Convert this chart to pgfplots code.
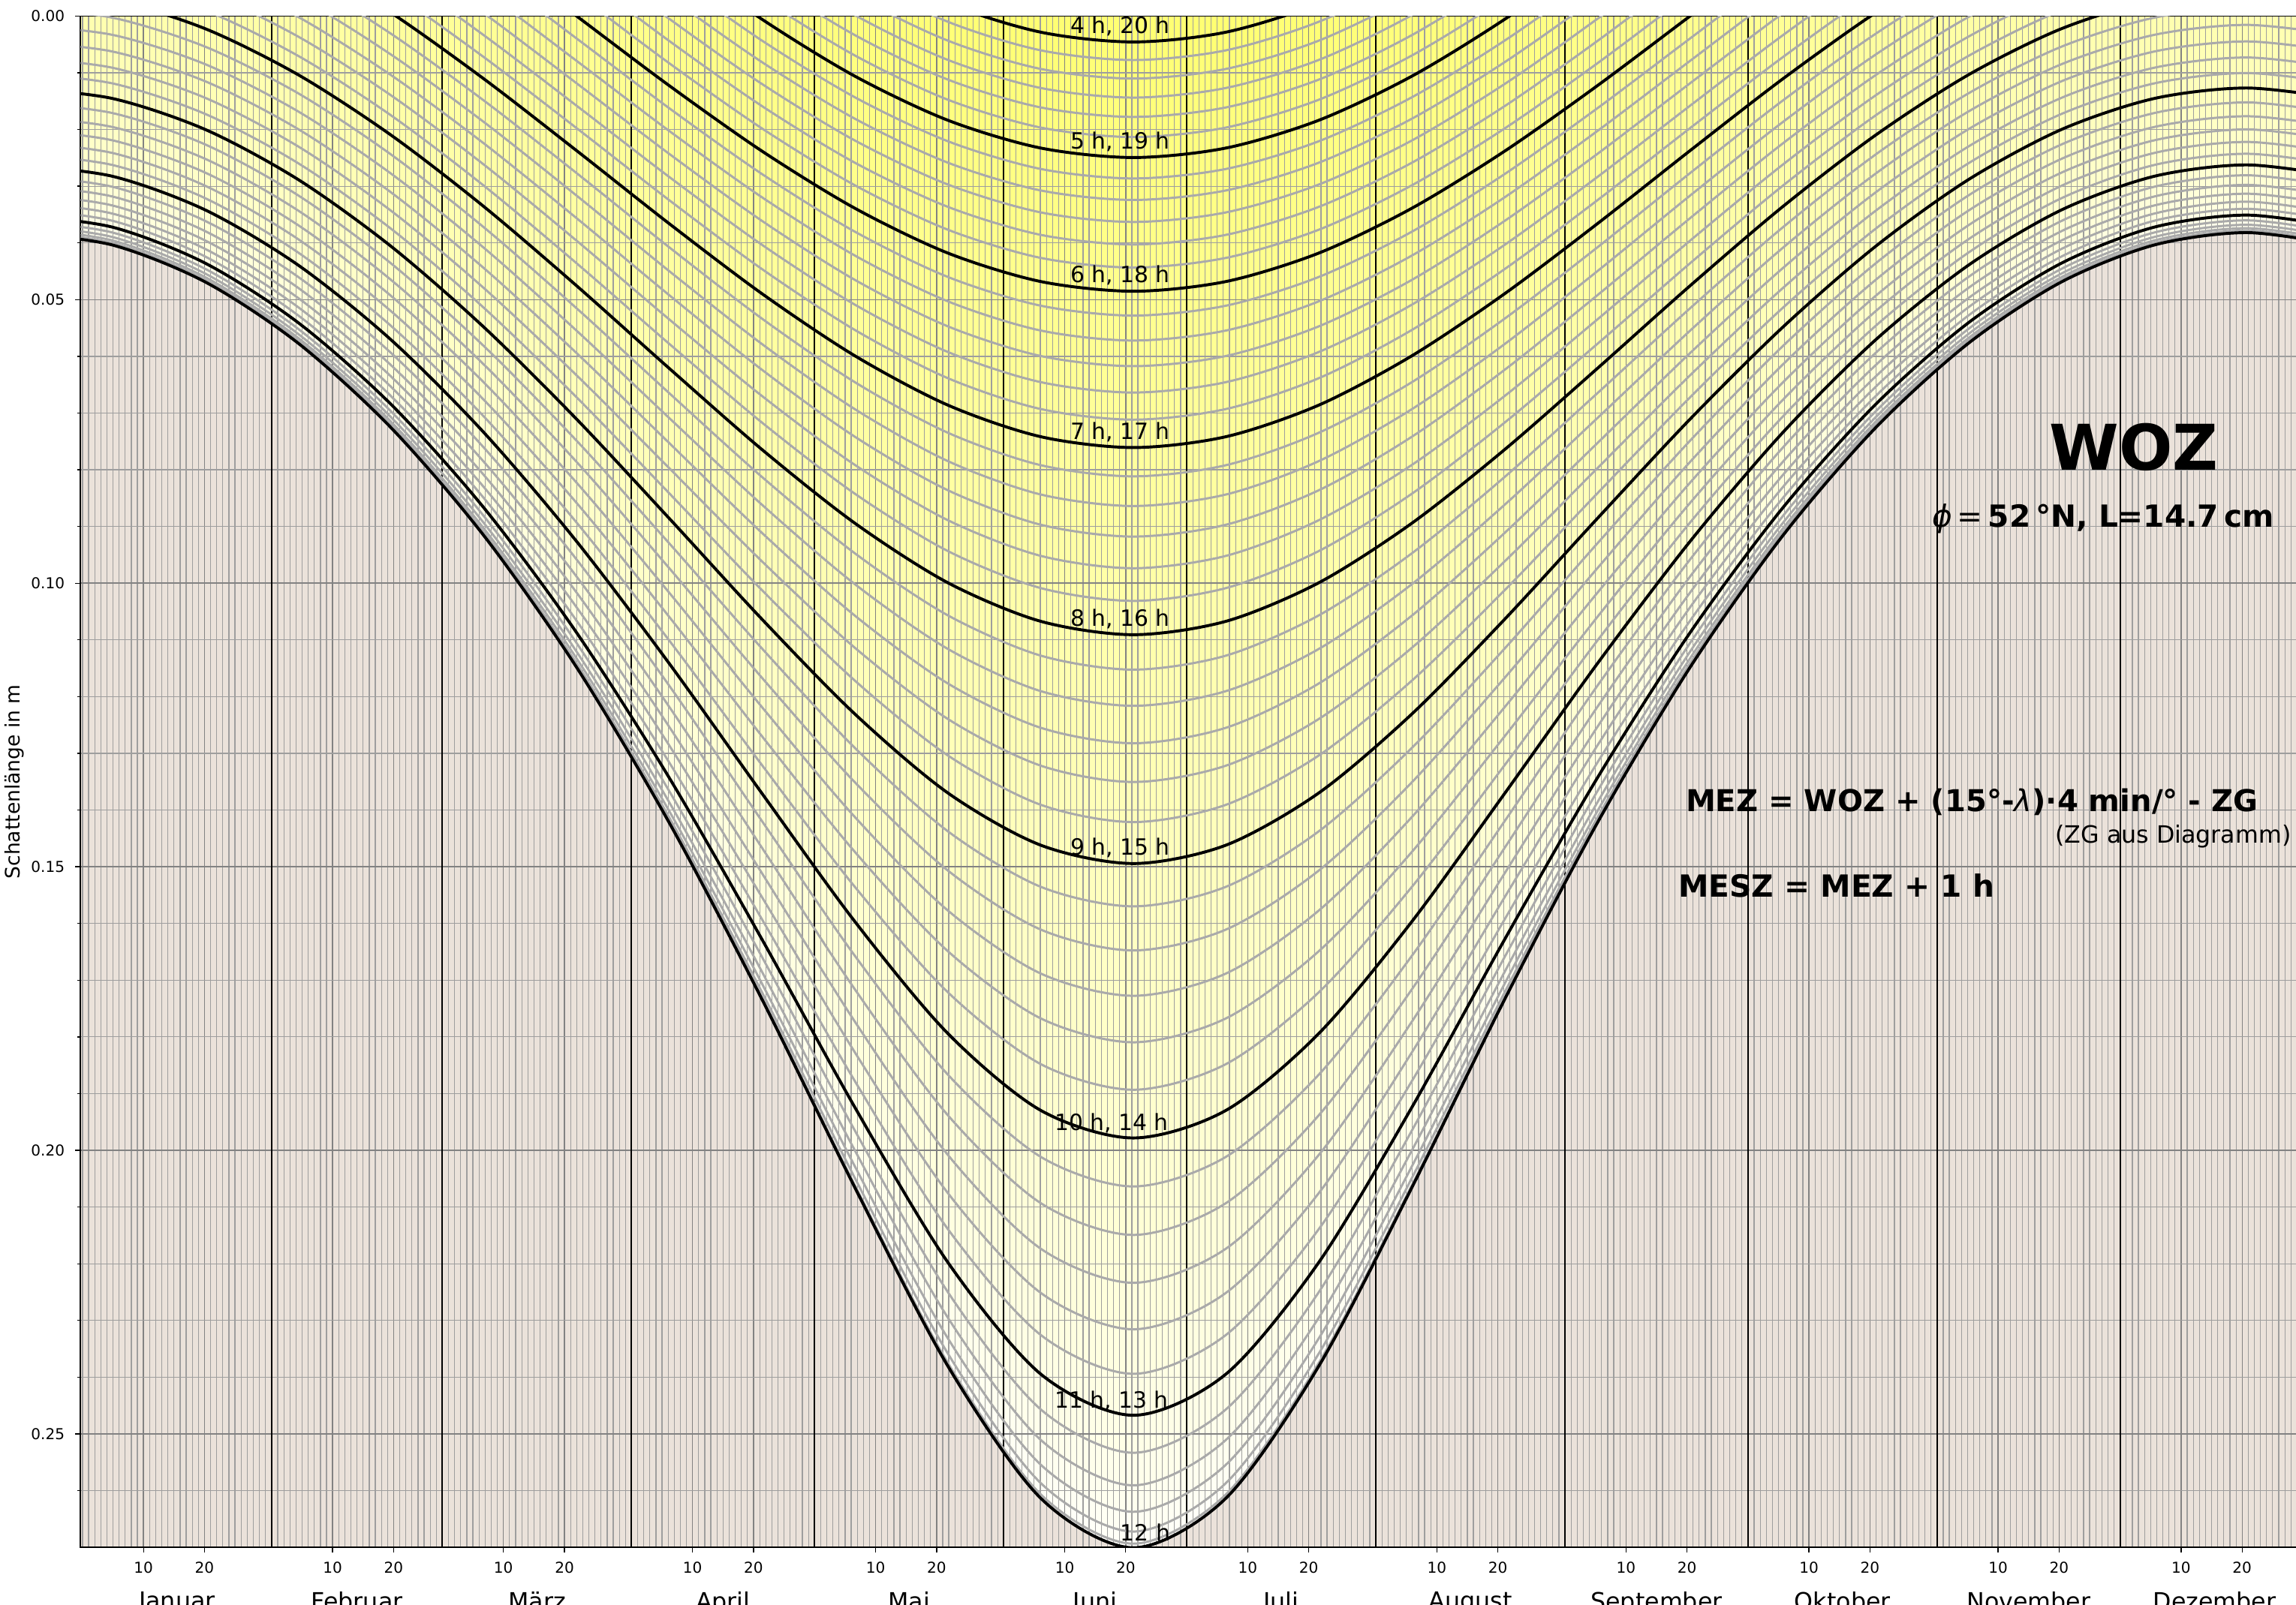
\documentclass[border=0pt]{standalone}
\usepackage{fontspec}
\setmainfont{DejaVu Sans}
\usepackage{pgfplots}
\usepackage{pgfplotstable}
\pgfplotsset{compat=1.18}
\newcommand\fs[1]{\fontsize{#1}{#1}\selectfont}
\definecolor{beige}{RGB}{235,226,218}
\definecolor{gcurve}{RGB}{170,170,170}
\definecolor{gridmin}{RGB}{158,158,158}
\definecolor{gridmaj}{RGB}{130,130,130}
\definecolor{Y0}{RGB}{255,255,251}\definecolor{Y1}{RGB}{255,255,247}\definecolor{Y2}{RGB}{255,255,243}
\definecolor{Y3}{RGB}{255,255,239}\definecolor{Y4}{RGB}{255,255,235}\definecolor{Y5}{RGB}{255,255,231}
\definecolor{Y6}{RGB}{255,255,228}\definecolor{Y7}{RGB}{255,255,224}\definecolor{Y8}{RGB}{255,255,220}
\definecolor{Y9}{RGB}{255,255,217}\definecolor{Y10}{RGB}{255,255,213}\definecolor{Y11}{RGB}{255,255,210}
\definecolor{Y12}{RGB}{255,255,206}\definecolor{Y13}{RGB}{255,255,203}\definecolor{Y14}{RGB}{255,255,200}
\definecolor{Y15}{RGB}{255,255,197}\definecolor{Y16}{RGB}{255,255,194}\definecolor{Y17}{RGB}{255,255,190}
\definecolor{Y18}{RGB}{255,255,187}\definecolor{Y19}{RGB}{255,255,184}\definecolor{Y20}{RGB}{255,255,181}
\definecolor{Y21}{RGB}{255,255,178}\definecolor{Y22}{RGB}{255,255,176}\definecolor{Y23}{RGB}{255,255,173}
\definecolor{Y24}{RGB}{255,255,170}\definecolor{Y25}{RGB}{255,255,167}\definecolor{Y26}{RGB}{255,255,165}
\definecolor{Y27}{RGB}{255,255,162}\definecolor{Y28}{RGB}{255,255,159}\definecolor{Y29}{RGB}{255,255,157}
\definecolor{Y30}{RGB}{255,255,154}\definecolor{Y31}{RGB}{255,255,152}\definecolor{Y32}{RGB}{255,255,149}
\definecolor{Y33}{RGB}{255,255,147}\definecolor{Y34}{RGB}{255,255,145}\definecolor{Y35}{RGB}{255,255,142}
\definecolor{Y36}{RGB}{255,255,140}\definecolor{Y37}{RGB}{255,255,138}\definecolor{Y38}{RGB}{255,255,135}
\definecolor{Y39}{RGB}{255,255,133}\definecolor{Y40}{RGB}{255,255,131}\definecolor{Y41}{RGB}{255,255,129}
\definecolor{Y42}{RGB}{255,255,127}\definecolor{Y43}{RGB}{255,255,125}\definecolor{Y44}{RGB}{255,255,123}
\definecolor{Y45}{RGB}{255,255,121}\definecolor{Y46}{RGB}{255,255,119}\definecolor{Y47}{RGB}{255,255,117}
\definecolor{Y48}{RGB}{255,255,115}

\pgfplotstableread{
x c0 c1 c2 c3 c4 c5 c6 c7 c8 c9 c10 c11 c12 c13 c14 c15 c16 c17 c18 c19 c20 c21 c22 c23 c24 c25 c26 c27 c28 c29 c30 c31 c32 c33 c34 c35 c36 c37 c38 c39 c40 c41 c42 c43 c44 c45 c46 c47 c48
-10.25 0.03818 0.03809 0.03783 0.03740 0.03680 0.03602 0.03509 0.03399 0.03273 0.03132 0.02977 0.02807 0.02624 0.02428 0.02219 0.01998 0.01766 0.01522 0.01268 0.01004 0.00730 0.00447 0.00155 -0.00146 -0.00456 -0.00775 -0.01102 -0.01437 -0.01778 -0.02133 -0.02494 -0.02863 -0.03242 -0.03630 -0.04027 -0.04434 -0.04852 -0.05281 -0.05721 -0.06173 -0.06638 -0.07116 -0.07608 -0.08116 -0.08639 -0.09178 -0.09736 -0.10312 -0.10908
4.96 0.04038 0.04029 0.04003 0.03958 0.03897 0.03818 0.03723 0.03611 0.03484 0.03341 0.03183 0.03011 0.02826 0.02627 0.02415 0.02192 0.01957 0.01711 0.01454 0.01188 0.00912 0.00626 0.00332 0.00029 -0.00283 -0.00603 -0.00931 -0.01267 -0.01610 -0.01965 -0.02326 -0.02695 -0.03074 -0.03461 -0.03857 -0.04263 -0.04680 -0.05106 -0.05544 -0.05993 -0.06454 -0.06928 -0.07416 -0.07918 -0.08435 -0.08968 -0.09517 -0.10085 -0.10671
20.17 0.04691 0.04682 0.04654 0.04607 0.04543 0.04460 0.04360 0.04243 0.04109 0.03960 0.03795 0.03615 0.03421 0.03214 0.02995 0.02763 0.02520 0.02266 0.02002 0.01728 0.01444 0.01152 0.00851 0.00542 0.00225 -0.00099 -0.00432 -0.00772 -0.01119 -0.01474 -0.01836 -0.02206 -0.02584 -0.02969 -0.03363 -0.03766 -0.04178 -0.04599 -0.05029 -0.05470 -0.05922 -0.06384 -0.06859 -0.07346 -0.07846 -0.08360 -0.08888 -0.09432 -0.09991
35.38 0.05770 0.05760 0.05729 0.05678 0.05607 0.05517 0.05408 0.05280 0.05135 0.04973 0.04794 0.04601 0.04393 0.04171 0.03936 0.03689 0.03431 0.03163 0.02884 0.02596 0.02300 0.01995 0.01683 0.01363 0.01036 0.00703 0.00363 0.00016 -0.00337 -0.00696 -0.01061 -0.01433 -0.01811 -0.02195 -0.02587 -0.02985 -0.03390 -0.03803 -0.04224 -0.04653 -0.05090 -0.05536 -0.05992 -0.06457 -0.06933 -0.07419 -0.07916 -0.08424 -0.08944
50.58 0.07259 0.07247 0.07212 0.07154 0.07074 0.06971 0.06847 0.06702 0.06538 0.06356 0.06156 0.05940 0.05709 0.05463 0.05204 0.04934 0.04652 0.04361 0.04060 0.03750 0.03433 0.03109 0.02778 0.02441 0.02099 0.01751 0.01398 0.01041 0.00679 0.00312 -0.00059 -0.00435 -0.00815 -0.01200 -0.01590 -0.01984 -0.02384 -0.02788 -0.03198 -0.03614 -0.04036 -0.04464 -0.04898 -0.05338 -0.05786 -0.06240 -0.06702 -0.07171 -0.07647
65.79 0.09161 0.09147 0.09105 0.09036 0.08939 0.08817 0.08670 0.08499 0.08306 0.08093 0.07860 0.07609 0.07343 0.07061 0.06767 0.06461 0.06144 0.05819 0.05485 0.05144 0.04796 0.04444 0.04086 0.03725 0.03359 0.02991 0.02619 0.02245 0.01868 0.01489 0.01107 0.00724 0.00338 -0.00050 -0.00441 -0.00834 -0.01229 -0.01627 -0.02028 -0.02432 -0.02839 -0.03249 -0.03663 -0.04080 -0.04500 -0.04924 -0.05351 -0.05782 -0.06215
81.00 0.11485 0.11467 0.11415 0.11328 0.11208 0.11056 0.10873 0.10663 0.10426 0.10166 0.09884 0.09583 0.09264 0.08931 0.08585 0.08228 0.07862 0.07488 0.07108 0.06723 0.06335 0.05943 0.05548 0.05153 0.04756 0.04359 0.03961 0.03564 0.03166 0.02769 0.02373 0.01976 0.01581 0.01185 0.00790 0.00395 0.00000 -0.00395 -0.00790 -0.01185 -0.01581 -0.01976 -0.02373 -0.02769 -0.03166 -0.03564 -0.03961 -0.04359 -0.04756
96.21 0.14230 0.14207 0.14138 0.14025 0.13869 0.13672 0.13437 0.13167 0.12866 0.12538 0.12185 0.11812 0.11421 0.11015 0.10598 0.10172 0.09739 0.09301 0.08861 0.08418 0.07975 0.07532 0.07091 0.06652 0.06215 0.05782 0.05351 0.04924 0.04500 0.04080 0.03663 0.03249 0.02839 0.02432 0.02028 0.01627 0.01229 0.00834 0.00441 0.00050 -0.00338 -0.00724 -0.01107 -0.01489 -0.01868 -0.02245 -0.02619 -0.02991 -0.03359
111.42 0.17346 0.17315 0.17222 0.17069 0.16860 0.16598 0.16288 0.15934 0.15543 0.15121 0.14672 0.14201 0.13713 0.13213 0.12704 0.12190 0.11673 0.11156 0.10640 0.10127 0.09619 0.09117 0.08620 0.08130 0.07647 0.07171 0.06702 0.06240 0.05786 0.05338 0.04898 0.04464 0.04036 0.03614 0.03198 0.02788 0.02384 0.01984 0.01590 0.01200 0.00815 0.00435 0.00059 -0.00312 -0.00679 -0.01041 -0.01398 -0.01751 -0.02099
126.63 0.20662 0.20620 0.20494 0.20288 0.20007 0.19657 0.19247 0.18784 0.18277 0.17735 0.17165 0.16574 0.15970 0.15358 0.14741 0.14126 0.13513 0.12907 0.12309 0.11720 0.11141 0.10574 0.10019 0.09475 0.08944 0.08424 0.07916 0.07419 0.06933 0.06457 0.05992 0.05536 0.05090 0.04653 0.04224 0.03803 0.03390 0.02985 0.02587 0.02195 0.01811 0.01433 0.01061 0.00696 0.00337 -0.00016 -0.00363 -0.00703 -0.01036
141.83 0.23801 0.23745 0.23580 0.23312 0.22948 0.22497 0.21973 0.21386 0.20751 0.20078 0.19379 0.18663 0.17938 0.17211 0.16487 0.15770 0.15065 0.14373 0.13697 0.13036 0.12393 0.11767 0.11158 0.10566 0.09991 0.09432 0.08888 0.08360 0.07846 0.07346 0.06859 0.06384 0.05922 0.05470 0.05029 0.04599 0.04178 0.03766 0.03363 0.02969 0.02584 0.02206 0.01836 0.01474 0.01119 0.00772 0.00432 0.00099 -0.00225
157.04 0.26131 0.26064 0.25864 0.25540 0.25103 0.24565 0.23943 0.23253 0.22511 0.21732 0.20929 0.20113 0.19294 0.18478 0.17672 0.16881 0.16106 0.15352 0.14618 0.13906 0.13216 0.12548 0.11902 0.11276 0.10671 0.10085 0.09517 0.08968 0.08435 0.07918 0.07416 0.06928 0.06454 0.05993 0.05544 0.05106 0.04680 0.04263 0.03857 0.03461 0.03074 0.02695 0.02326 0.01965 0.01610 0.01267 0.00931 0.00603 0.00283
172.25 0.27008 0.26936 0.26722 0.26374 0.25907 0.25333 0.24672 0.23941 0.23156 0.22336 0.21492 0.20637 0.19782 0.18932 0.18095 0.17275 0.16475 0.15698 0.14943 0.14212 0.13505 0.12822 0.12162 0.11524 0.10908 0.10312 0.09736 0.09178 0.08639 0.08116 0.07608 0.07116 0.06638 0.06173 0.05721 0.05281 0.04852 0.04434 0.04027 0.03630 0.03242 0.02863 0.02494 0.02133 0.01778 0.01437 0.01102 0.00775 0.00456
187.46 0.26131 0.26064 0.25864 0.25540 0.25103 0.24565 0.23943 0.23253 0.22511 0.21732 0.20929 0.20113 0.19294 0.18478 0.17672 0.16881 0.16106 0.15352 0.14618 0.13906 0.13216 0.12548 0.11902 0.11276 0.10671 0.10085 0.09517 0.08968 0.08435 0.07918 0.07416 0.06928 0.06454 0.05993 0.05544 0.05106 0.04680 0.04263 0.03857 0.03461 0.03074 0.02695 0.02326 0.01965 0.01610 0.01267 0.00931 0.00603 0.00283
202.67 0.23801 0.23745 0.23580 0.23312 0.22948 0.22497 0.21973 0.21386 0.20751 0.20078 0.19379 0.18663 0.17938 0.17211 0.16487 0.15770 0.15065 0.14373 0.13697 0.13036 0.12393 0.11767 0.11158 0.10566 0.09991 0.09432 0.08888 0.08360 0.07846 0.07346 0.06859 0.06384 0.05922 0.05470 0.05029 0.04599 0.04178 0.03766 0.03363 0.02969 0.02584 0.02206 0.01836 0.01474 0.01119 0.00772 0.00432 0.00099 -0.00225
217.88 0.20662 0.20620 0.20494 0.20288 0.20007 0.19657 0.19247 0.18784 0.18277 0.17735 0.17165 0.16574 0.15970 0.15358 0.14741 0.14126 0.13513 0.12907 0.12309 0.11720 0.11141 0.10574 0.10019 0.09475 0.08944 0.08424 0.07916 0.07419 0.06933 0.06457 0.05992 0.05536 0.05090 0.04653 0.04224 0.03803 0.03390 0.02985 0.02587 0.02195 0.01811 0.01433 0.01061 0.00696 0.00337 -0.00016 -0.00363 -0.00703 -0.01036
233.08 0.17346 0.17315 0.17222 0.17069 0.16860 0.16598 0.16288 0.15934 0.15543 0.15121 0.14672 0.14201 0.13713 0.13213 0.12704 0.12190 0.11673 0.11156 0.10640 0.10127 0.09619 0.09117 0.08620 0.08130 0.07647 0.07171 0.06702 0.06240 0.05786 0.05338 0.04898 0.04464 0.04036 0.03614 0.03198 0.02788 0.02384 0.01984 0.01590 0.01200 0.00815 0.00435 0.00059 -0.00312 -0.00679 -0.01041 -0.01398 -0.01751 -0.02099
248.29 0.14230 0.14207 0.14138 0.14025 0.13869 0.13672 0.13437 0.13167 0.12866 0.12538 0.12185 0.11812 0.11421 0.11015 0.10598 0.10172 0.09739 0.09301 0.08861 0.08418 0.07975 0.07532 0.07091 0.06652 0.06215 0.05782 0.05351 0.04924 0.04500 0.04080 0.03663 0.03249 0.02839 0.02432 0.02028 0.01627 0.01229 0.00834 0.00441 0.00050 -0.00338 -0.00724 -0.01107 -0.01489 -0.01868 -0.02245 -0.02619 -0.02991 -0.03359
263.50 0.11485 0.11467 0.11415 0.11328 0.11208 0.11056 0.10873 0.10663 0.10426 0.10166 0.09884 0.09583 0.09264 0.08931 0.08585 0.08228 0.07862 0.07488 0.07108 0.06723 0.06335 0.05943 0.05548 0.05153 0.04756 0.04359 0.03961 0.03564 0.03166 0.02769 0.02373 0.01976 0.01581 0.01185 0.00790 0.00395 0.00000 -0.00395 -0.00790 -0.01185 -0.01581 -0.01976 -0.02373 -0.02769 -0.03166 -0.03564 -0.03961 -0.04359 -0.04756
278.71 0.09161 0.09147 0.09105 0.09036 0.08939 0.08817 0.08670 0.08499 0.08306 0.08093 0.07860 0.07609 0.07343 0.07061 0.06767 0.06461 0.06144 0.05819 0.05485 0.05144 0.04796 0.04444 0.04086 0.03725 0.03359 0.02991 0.02619 0.02245 0.01868 0.01489 0.01107 0.00724 0.00338 -0.00050 -0.00441 -0.00834 -0.01229 -0.01627 -0.02028 -0.02432 -0.02839 -0.03249 -0.03663 -0.04080 -0.04500 -0.04924 -0.05351 -0.05782 -0.06215
293.92 0.07259 0.07247 0.07212 0.07154 0.07074 0.06971 0.06847 0.06702 0.06538 0.06356 0.06156 0.05940 0.05709 0.05463 0.05204 0.04934 0.04652 0.04361 0.04060 0.03750 0.03433 0.03109 0.02778 0.02441 0.02099 0.01751 0.01398 0.01041 0.00679 0.00312 -0.00059 -0.00435 -0.00815 -0.01200 -0.01590 -0.01984 -0.02384 -0.02788 -0.03198 -0.03614 -0.04036 -0.04464 -0.04898 -0.05338 -0.05786 -0.06240 -0.06702 -0.07171 -0.07647
309.13 0.05770 0.05760 0.05729 0.05678 0.05607 0.05517 0.05408 0.05280 0.05135 0.04973 0.04794 0.04601 0.04393 0.04171 0.03936 0.03689 0.03431 0.03163 0.02884 0.02596 0.02300 0.01995 0.01683 0.01363 0.01036 0.00703 0.00363 0.00016 -0.00337 -0.00696 -0.01061 -0.01433 -0.01811 -0.02195 -0.02587 -0.02985 -0.03390 -0.03803 -0.04224 -0.04653 -0.05090 -0.05536 -0.05992 -0.06457 -0.06933 -0.07419 -0.07916 -0.08424 -0.08944
324.33 0.04691 0.04682 0.04654 0.04607 0.04543 0.04460 0.04360 0.04243 0.04109 0.03960 0.03795 0.03615 0.03421 0.03214 0.02995 0.02763 0.02520 0.02266 0.02002 0.01728 0.01444 0.01152 0.00851 0.00542 0.00225 -0.00099 -0.00432 -0.00772 -0.01119 -0.01474 -0.01836 -0.02206 -0.02584 -0.02969 -0.03363 -0.03766 -0.04178 -0.04599 -0.05029 -0.05470 -0.05922 -0.06384 -0.06859 -0.07346 -0.07846 -0.08360 -0.08888 -0.09432 -0.09991
339.54 0.04038 0.04029 0.04003 0.03958 0.03897 0.03818 0.03723 0.03611 0.03484 0.03341 0.03183 0.03011 0.02826 0.02627 0.02415 0.02192 0.01957 0.01711 0.01454 0.01188 0.00912 0.00626 0.00332 0.00029 -0.00283 -0.00603 -0.00931 -0.01267 -0.01610 -0.01965 -0.02326 -0.02695 -0.03074 -0.03461 -0.03857 -0.04263 -0.04680 -0.05106 -0.05544 -0.05993 -0.06454 -0.06928 -0.07416 -0.07918 -0.08435 -0.08968 -0.09517 -0.10085 -0.10671
354.75 0.03818 0.03809 0.03783 0.03740 0.03680 0.03602 0.03509 0.03399 0.03273 0.03132 0.02977 0.02807 0.02624 0.02428 0.02219 0.01998 0.01766 0.01522 0.01268 0.01004 0.00730 0.00447 0.00155 -0.00146 -0.00456 -0.00775 -0.01102 -0.01437 -0.01778 -0.02133 -0.02494 -0.02863 -0.03242 -0.03630 -0.04027 -0.04434 -0.04852 -0.05281 -0.05721 -0.06173 -0.06638 -0.07116 -0.07608 -0.08116 -0.08639 -0.09178 -0.09736 -0.10312 -0.10908
369.96 0.04038 0.04029 0.04003 0.03958 0.03897 0.03818 0.03723 0.03611 0.03484 0.03341 0.03183 0.03011 0.02826 0.02627 0.02415 0.02192 0.01957 0.01711 0.01454 0.01188 0.00912 0.00626 0.00332 0.00029 -0.00283 -0.00603 -0.00931 -0.01267 -0.01610 -0.01965 -0.02326 -0.02695 -0.03074 -0.03461 -0.03857 -0.04263 -0.04680 -0.05106 -0.05544 -0.05993 -0.06454 -0.06928 -0.07416 -0.07918 -0.08435 -0.08968 -0.09517 -0.10085 -0.10671
}\curves

\begin{document}
\begin{tikzpicture}
\begin{axis}[
  at={(0pt,0pt)}, anchor=south west,
  scale only axis, width=1091.52pt, height=753.12pt,
  xmin=-0.32, xmax=363.57, ymin=0, ymax=0.27, y dir=reverse,
  set layers, clip mode=individual,
  axis background/.style={fill=beige},
  axis line style={line width=0.6pt},
  tick pos=left,
  tick align=outside, major tick length=2.6pt, minor tick length=0pt,
  tick style={black, line width=0.5pt},
  xtick={10,20,41,51,69,79,100,110,130,140,161,171,191,201,222,232,253,263,283,293,314,324,344,354},
  xticklabels={10,20,10,20,10,20,10,20,10,20,10,20,10,20,10,20,10,20,10,20,10,20,10,20},
  minor xtick={0,1,...,363},
  ytick={0,0.05,0.1,0.15,0.2,0.25},
  minor ytick={0.01,0.02,0.03,0.04,0.06,0.07,0.08,0.09,0.11,0.12,0.13,0.14,0.16,0.17,0.18,0.19,0.21,0.22,0.23,0.24,0.26},
  extra y ticks={0.01,0.02,0.03,0.04,0.06,0.07,0.08,0.09,0.11,0.12,0.13,0.14,0.16,0.17,0.18,0.19,0.21,0.22,0.23,0.24,0.26},
  extra y tick style={grid=none, major tick length=1.5pt, yticklabel={}},
  grid=both,
  minor grid style={gridmin, line width=0.45pt},
  major grid style={gridmaj, line width=0.55pt},
  /pgf/number format/fixed, /pgf/number format/fixed zerofill,
  /pgf/number format/precision=2, /pgf/number format/assume math mode=true,
  scaled y ticks=false,
  tick label style={font=\fs{7.4}},
  xticklabel style={anchor=north, yshift=-1.2pt},
  yticklabel style={anchor=east, xshift=-1.7pt},
  ylabel={Schattenlänge in m},
  every axis y label/.style={at={(axis description cs:-0.0297,0.5)}, rotate=90, anchor=center, font=\fs{9.8}},
  extra x ticks={15.5,45,74.5,105,135.5,166,196.5,227.5,258,288.5,319,349.5},
  extra x tick labels={Januar,Februar,März,April,Mai,Juni,Juli,August,September,Oktober,November,Dezember},
  extra x tick style={grid=none, major tick length=0pt, tick label style={font=\fs{11.7}, anchor=base, yshift=-17.2pt}},
]
% coloured bands (one per 10-minute curve)
\pgfplotsinvokeforeach{0,...,48}{
  \addplot[draw=none, fill=Y#1, smooth, tension=0.5, on layer=axis background] table[x=x, y=c#1] {\curves} \closedcycle;
}
% month boundaries
\pgfplotsinvokeforeach{31,59,90,120,151,181,212,243,273,304,334}{
  \addplot[black, line width=0.75pt] coordinates {(#1,0) (#1,0.27)};
}
% 10-minute curves
\pgfplotsinvokeforeach{1,2,3,4,5,7,8,9,10,11,13,14,15,16,17,19,20,21,22,23,25,26,27,28,29,31,32,33,34,35,37,38,39,40,41,43,44,45,46,47}{
  \addplot[gcurve, line width=1.1pt, smooth, tension=0.5] table[x=x, y=c#1] {\curves};
}
% full hours
\pgfplotsinvokeforeach{0,6,12,18,24,30,36,42,48}{
  \addplot[black, line width=1.45pt, smooth, tension=0.5] table[x=x, y=c#1] {\curves};
}
\node[font=\fs{11}] at (axis cs:170.1,0.0018) {4 h, 20 h};
\node[font=\fs{11}] at (axis cs:170.1,0.0222) {5 h, 19 h};
\node[font=\fs{11}] at (axis cs:170.1,0.0457) {6 h, 18 h};
\node[font=\fs{11}] at (axis cs:170.1,0.0733) {7 h, 17 h};
\node[font=\fs{11}] at (axis cs:170.1,0.1063) {8 h, 16 h};
\node[font=\fs{11}] at (axis cs:170.1,0.1466) {9 h, 15 h};
\node[font=\fs{11}] at (axis cs:168.7,0.1952) {10 h, 14 h};
\node[font=\fs{11}] at (axis cs:168.7,0.2442) {11 h, 13 h};
\node[font=\fs{11}] at (axis cs:174.2,0.2674) {12 h};
\node[font=\fs{31}\bfseries, anchor=base, inner sep=0pt] at (axis cs:336.3,0.0801) {WOZ};
\node[font=\fs{15}\bfseries, anchor=base, inner sep=0pt] at (axis cs:331.2,0.0901) {{\mdseries\itshape ϕ}{\mdseries\,=\,}52\,°N, L=14.7\,cm};
\node[font=\fs{14.8}\bfseries, anchor=base, inner sep=0pt] at (axis cs:309.7,0.1402) {MEZ = WOZ + (15°-{\mdseries\itshape λ})·4 min/° - ZG};
\node[font=\fs{11.7}, anchor=base east, inner sep=0pt] at (axis cs:362.1,0.1458) {(ZG aus Diagramm)};
\node[font=\fs{15}\bfseries, anchor=base, inner sep=0pt] at (axis cs:287.5,0.1554) {MESZ = MEZ + 1 h};
\end{axis}
\pgfresetboundingbox
\useasboundingbox (-39.6pt,-28.08pt) rectangle (1089.36pt,761.04pt);
\end{tikzpicture}
\end{document}
